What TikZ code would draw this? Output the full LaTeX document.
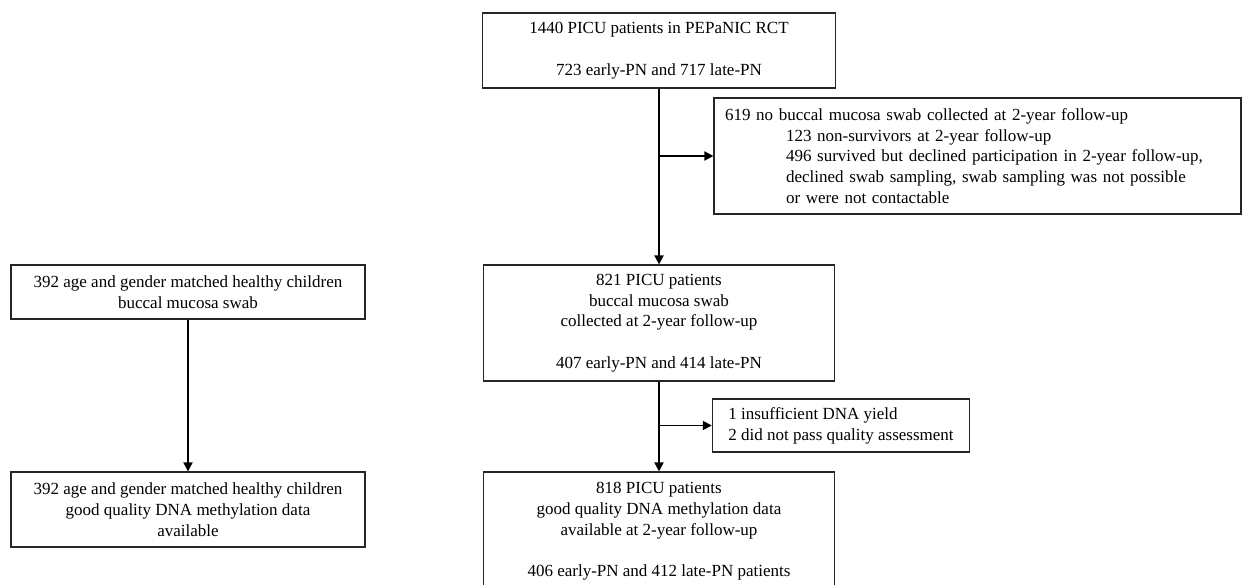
\documentclass[tikz,border=0pt]{standalone}
\usepackage{fontspec}
\setmainfont{Liberation Serif}
\usetikzlibrary{arrows.meta}

\tikzset{
  flowbox/.style={draw=black!85, line width=1.2pt, inner sep=0pt, align=center,
    font=\fontsize{17}{20.7}\selectfont},
  sidebox/.style={flowbox, inner xsep=11pt, align=left},
  flowarrow/.style={line width=1.8pt, -{Triangle[length=9pt,width=9pt]}}
}

\begin{document}
\begin{tikzpicture}[x=1pt,y=-1pt]
  \useasboundingbox[fill=white] (0,0) rectangle (1242,584);
  % main column
  \node[flowbox, minimum width=353pt, minimum height=75pt] (rct) at (659,50.5)
    {1440 PICU patients in PEPaNIC RCT\\[20.7pt] 723 early-PN and 717 late-PN};
  \node[flowbox, minimum width=351pt, minimum height=116pt] (swab) at (659,323)
    {821 PICU patients\\ buccal mucosa swab\\ collected at 2-year follow-up\\[20.7pt] 407 early-PN and 414 late-PN};
  \node[flowbox, minimum width=351pt, minimum height=119pt] (meth) at (659,531.5)
    {818 PICU patients\\ good quality DNA methylation data\\ available at 2-year follow-up\\[20.7pt] 406 early-PN and 412 late-PN patients};
  % exclusions
  \node[sidebox, text width=505pt, minimum height=116pt] (lost) at (977.5,156)
    {619 no buccal mucosa swab collected at 2-year follow-up\\
     \hspace*{61pt}123 non-survivors at 2-year follow-up\\
     \hspace*{61pt}496 survived but declined participation in 2-year follow-up,\\
     \hspace*{61pt}declined swab sampling, swab sampling was not possible\\
     \hspace*{61pt}or were not contactable};
  \node[sidebox, inner xsep=16pt, minimum width=254pt, minimum height=53pt] (qc) at (841,425.5)
    {1 insufficient DNA yield\\ 2 did not pass quality assessment};
  % healthy controls
  \node[flowbox, minimum width=354pt, minimum height=54pt] (ctrl) at (188,292)
    {392 age and gender matched healthy children\\ buccal mucosa swab};
  \node[flowbox, minimum width=354pt, minimum height=75pt] (ctrlmeth) at (188,509.5)
    {392 age and gender matched healthy children\\ good quality DNA methylation data\\ available};
  % connectors
  \draw[flowarrow] (rct.south) -- (swab.north);
  \draw[flowarrow] (swab.south) -- (meth.north);
  \draw[flowarrow] (rct.south |- lost.west) -- (lost.west);
  \draw[flowarrow] (swab.south |- qc.west) -- (qc.west);
  \draw[flowarrow] (ctrl.south) -- (ctrlmeth.north);
\end{tikzpicture}
\end{document}
